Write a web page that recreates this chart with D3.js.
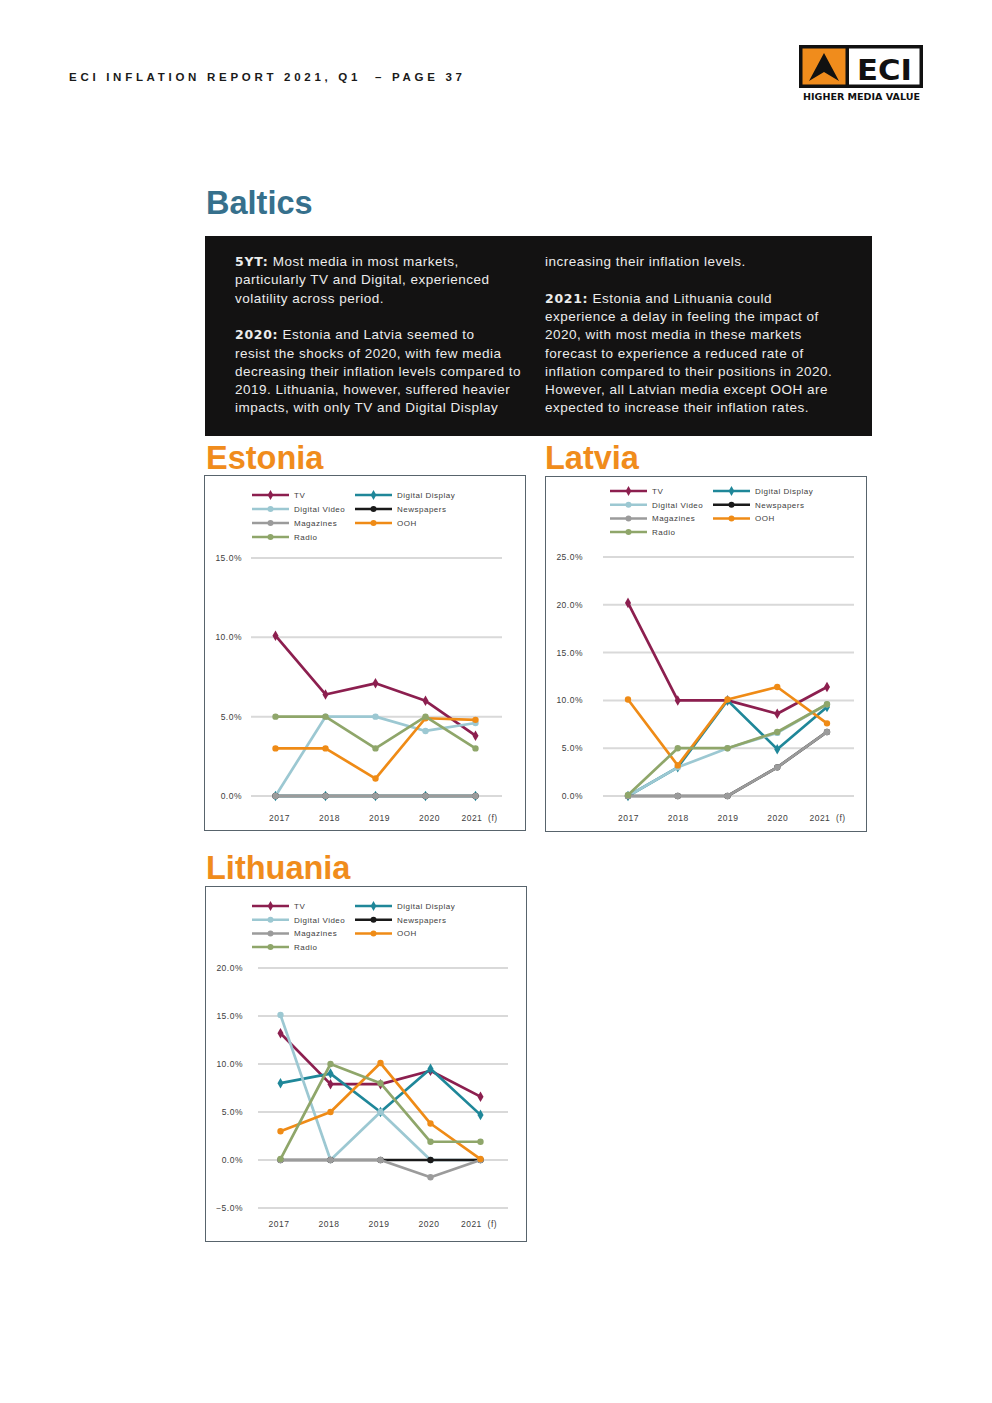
<!DOCTYPE html>
<html><head><meta charset="utf-8">
<script src="https://cdn.jsdelivr.net/npm/d3@7"></script>
<style>html,body{margin:0;padding:0;background:#fff;} svg{display:block;}</style>
</head><body><div id="page"></div>
<script>
// ---------- DATA ----------
const years = ["2017", "2018", "2019", "2020", "2021  (f)"];
const seriesNames = ["TV", "Digital Display", "Digital Video", "Newspapers", "Magazines", "OOH", "Radio"];
const seriesColors = ["#8c1f4f", "#1f8799", "#9cc8d2", "#1a1a1a", "#9b9b9b", "#ef8b16", "#8fa66a"];

// Estonia
const estoniaTV        = [10.1, 6.4, 7.1, 6.0, 3.8];
const estoniaDigDisp   = [0, 0, 0, 0, 0];
const estoniaDigVideo  = [0, 5.0, 5.0, 4.1, 4.6];
const estoniaNews      = [0, 0, 0, 0, 0];
const estoniaMags      = [0, 0, 0, 0, 0];
const estoniaOOH       = [3.0, 3.0, 1.1, 4.9, 4.8];
const estoniaRadio     = [5.0, 5.0, 3.0, 5.0, 3.0];
const estoniaTicks     = [0, 5, 10, 15];

// Latvia
const latviaTV         = [20.2, 10.0, 10.0, 8.6, 11.4];
const latviaDigDisp    = [0, 3.0, 10.0, 4.9, 9.3];
const latviaDigVideo   = [0, 3.0, 5.0, 6.6, 9.6];
const latviaNews       = [0, 0, 0, 3.0, 6.7];
const latviaMags       = [0, 0, 0, 3.0, 6.7];
const latviaOOH        = [10.1, 3.2, 10.1, 11.4, 7.6];
const latviaRadio      = [0.1, 5.0, 5.0, 6.7, 9.6];
const latviaTicks      = [0, 5, 10, 15, 20, 25];

// Lithuania
const lithuaniaTV       = [13.2, 7.9, 7.9, 9.3, 6.6];
const lithuaniaDigDisp  = [8.0, 9.0, 5.0, 9.5, 4.7];
const lithuaniaDigVideo = [15.1, 0, 5.0, 0, 0];
const lithuaniaNews     = [0, 0, 0, 0, 0];
const lithuaniaMags     = [0, 0, 0, -1.8, 0];
const lithuaniaOOH      = [3.0, 5.0, 10.1, 3.8, 0.1];
const lithuaniaRadio    = [0.1, 10.0, 8.0, 1.9, 1.9];
const lithuaniaTicks    = [-5, 0, 5, 10, 15, 20];

// Text
const headerText = "ECI INFLATION REPORT 2021, Q1  \u2013 PAGE 37";
const leftLines = [
  ["5YT:", " Most media in most markets,"],
  ["", "particularly TV and Digital, experienced"],
  ["", "volatility across period."],
  ["", ""],
  ["2020:", " Estonia and Latvia seemed to"],
  ["", "resist the shocks of 2020, with few media"],
  ["", "decreasing their inflation levels compared to"],
  ["", "2019. Lithuania, however, suffered heavier"],
  ["", "impacts, with only TV and Digital Display"]
];
const rightLines = [
  ["", "increasing their inflation levels."],
  ["", ""],
  ["2021:", " Estonia and Lithuania could"],
  ["", "experience a delay in feeling the impact of"],
  ["", "2020, with most media in these markets"],
  ["", "forecast to experience a reduced rate of"],
  ["", "inflation compared to their positions in 2020."],
  ["", "However, all Latvian media except OOH are"],
  ["", "expected to increase their inflation rates."]
];

// ---------- PAGE ----------
const svg = d3.select("#page").append("svg")
  .attr("width", 992).attr("height", 1403)
  .attr("xmlns", "http://www.w3.org/2000/svg");
svg.append("rect").attr("width", 992).attr("height", 1403).attr("fill", "#fff");

// header
svg.append("text").attr("x", 69).attr("y", 81)
  .attr("font-family", "Liberation Sans, Arial, sans-serif").attr("font-weight", 700)
  .attr("font-size", 11.5).attr("fill", "#1a1a1a")
  .attr("textLength", 393).attr("lengthAdjust", "spacing")
  .style("white-space", "pre").text(headerText);

// logo
const logo = svg.append("g");
logo.append("rect").attr("x", 799).attr("y", 45).attr("width", 124).attr("height", 43).attr("fill", "#111");
logo.append("rect").attr("x", 802.5).attr("y", 48.5).attr("width", 43).attr("height", 36).attr("fill", "#f08c1c");
logo.append("rect").attr("x", 849).attr("y", 48.5).attr("width", 70.5).attr("height", 36).attr("fill", "#fff");
logo.append("path").attr("d", "M809,81 L824,53 L839,81 L824,72 Z").attr("fill", "#111");
logo.append("text").attr("x", 884.5).attr("y", 79.5).attr("text-anchor", "middle")
  .attr("font-family", "DejaVu Sans, sans-serif").attr("font-weight", 700)
  .attr("font-size", 29).attr("fill", "#111")
  .attr("textLength", 55).attr("lengthAdjust", "spacingAndGlyphs").text("ECI");
logo.append("text").attr("x", 803).attr("y", 99.5)
  .attr("font-family", "DejaVu Sans, sans-serif").attr("font-weight", 700)
  .attr("font-size", 8).attr("fill", "#111")
  .attr("textLength", 117).attr("lengthAdjust", "spacingAndGlyphs").text("HIGHER MEDIA VALUE");

// title
svg.append("text").attr("x", 206).attr("y", 214)
  .attr("font-family", "Liberation Sans, Arial, sans-serif").attr("font-weight", 700)
  .attr("font-size", 32.5).attr("fill", "#36708c").text("Baltics");

// black box
svg.append("rect").attr("x", 205).attr("y", 236).attr("width", 667).attr("height", 200).attr("fill", "#131212");

function drawLines(lines, x) {
  lines.forEach((ln, i) => {
    const t = svg.append("text").attr("x", x).attr("y", 266 + i * 18.3)
      .attr("font-family", "Liberation Sans, Arial, sans-serif")
      .attr("font-size", 13.5).attr("fill", "#ececec").attr("letter-spacing", 0.5)
      .style("white-space", "pre");
    if (ln[0]) t.append("tspan").attr("font-family", "DejaVu Sans, sans-serif").attr("font-weight", 700)
      .attr("font-size", 12.5).attr("letter-spacing", 0.7).text(ln[0]);
    t.append("tspan").text(ln[1]);
  });
}
drawLines(leftLines, 235);
drawLines(rightLines, 545);

// country titles
function countryTitle(name, x, y) {
  svg.append("text").attr("x", x).attr("y", y)
    .attr("font-family", "Liberation Sans, Arial, sans-serif").attr("font-weight", 700)
    .attr("font-size", 32.5).attr("fill", "#f08c1c").text(name);
}
countryTitle("Estonia", 206, 469);
countryTitle("Latvia", 545, 469);
countryTitle("Lithuania", 206, 879);

// ---------- CHARTS ----------
function drawChart(cfg) {
  const g = svg.append("g");
  g.append("rect").attr("x", cfg.box[0] + 0.5).attr("y", cfg.box[1] + 0.5)
    .attr("width", cfg.box[2]).attr("height", cfg.box[3])
    .attr("fill", "#fff").attr("stroke", "#58646c").attr("stroke-width", 1);

  const x = d3.scalePoint().domain(years).range(cfg.xRange);
  const y = d3.scaleLinear().domain(d3.extent(cfg.ticks)).range(cfg.yRange);

  // grid
  g.selectAll(".grid").data(cfg.ticks).join("line")
    .attr("x1", cfg.gridRange[0]).attr("x2", cfg.gridRange[1])
    .attr("y1", d => y(d)).attr("y2", d => y(d))
    .attr("stroke", "#d9d9d9").attr("stroke-width", 2);

  // y labels
  const fmt = d => d3.format(".1f")(d) + "%";
  g.selectAll(".yl").data(cfg.ticks).join("text")
    .attr("x", cfg.tickLabelX).attr("y", d => y(d) + 3)
    .attr("text-anchor", "end")
    .attr("font-family", "Liberation Sans, Arial, sans-serif").attr("font-size", 8.5)
    .attr("letter-spacing", 0.5).attr("fill", "#404040").text(fmt);

  // x labels
  g.selectAll(".xl").data(years).join("text")
    .attr("x", d => x(d) + cfg.xLabelDx).attr("y", cfg.xLabelY + 3)
    .attr("text-anchor", "middle").style("white-space", "pre")
    .attr("font-family", "Liberation Sans, Arial, sans-serif").attr("font-size", 8.5)
    .attr("letter-spacing", 0.5).attr("fill", "#404040").text(d => d);

  // series
  const line = d3.line().x((d, i) => x(years[i])).y(d => y(d));
  const sym = (i) => (i === 0 || i === 1) ? d3.symbolDiamond : d3.symbolCircle;
  cfg.series.forEach((vals, si) => {
    g.append("path").datum(vals).attr("d", line)
      .attr("fill", "none").attr("stroke", seriesColors[si])
      .attr("stroke-width", 2.7).attr("stroke-linejoin", "round");
    g.selectAll(null).data(vals).join("path")
      .attr("transform", (d, i) => `translate(${x(years[i])},${y(d)})`)
      .attr("d", d3.symbol().type(sym(si)).size(32))
      .attr("fill", seriesColors[si]);
  });

  // legend
  seriesNames.forEach((name, i) => {
    const col = i % 2, row = Math.floor(i / 2);
    const lx = cfg.legendX[col], ly = cfg.legendY + row * cfg.legendStep;
    g.append("line").attr("x1", lx).attr("x2", lx + 37).attr("y1", ly).attr("y2", ly)
      .attr("stroke", seriesColors[i]).attr("stroke-width", 2.5);
    g.append("path").attr("transform", `translate(${lx + 18.5},${ly})`)
      .attr("d", d3.symbol().type(sym(i)).size(28)).attr("fill", seriesColors[i]);
    g.append("text").attr("x", lx + 42).attr("y", ly + 3)
      .attr("font-family", "Liberation Sans, Arial, sans-serif").attr("font-size", 8)
      .attr("letter-spacing", 0.5).attr("fill", "#404040").text(name);
  });
}

drawChart({
  box: [204, 475, 321, 355],
  xRange: [275.5, 475.5], gridRange: [251, 502],
  ticks: estoniaTicks, yRange: [796, 558],
  tickLabelX: 242, xLabelY: 818, xLabelDx: 4,
  legendX: [252, 355], legendY: 495, legendStep: 14,
  series: [estoniaTV, estoniaDigDisp, estoniaDigVideo, estoniaNews, estoniaMags, estoniaOOH, estoniaRadio]
});
drawChart({
  box: [545, 476, 321, 355],
  xRange: [628, 827], gridRange: [603, 854],
  ticks: latviaTicks, yRange: [796, 557],
  tickLabelX: 583, xLabelY: 818, xLabelDx: 0.5,
  legendX: [610, 713], legendY: 491, legendStep: 13.7,
  series: [latviaTV, latviaDigDisp, latviaDigVideo, latviaNews, latviaMags, latviaOOH, latviaRadio]
});
drawChart({
  box: [205, 886, 321, 355],
  xRange: [280.5, 480.5], gridRange: [258, 508],
  ticks: lithuaniaTicks, yRange: [1208, 968],
  tickLabelX: 243, xLabelY: 1224, xLabelDx: -1.5,
  legendX: [252, 355], legendY: 906, legendStep: 13.7,
  series: [lithuaniaTV, lithuaniaDigDisp, lithuaniaDigVideo, lithuaniaNews, lithuaniaMags, lithuaniaOOH, lithuaniaRadio]
});
</script>
</body></html>
